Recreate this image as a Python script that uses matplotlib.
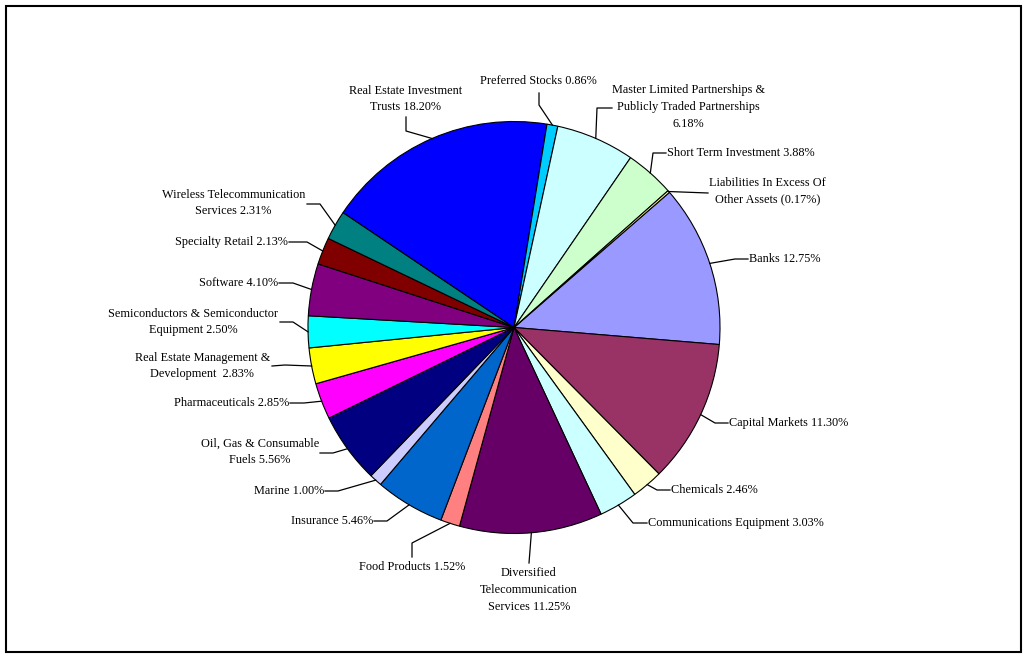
import numpy as np
import matplotlib
matplotlib.use("Agg")
import matplotlib.pyplot as plt
from matplotlib.patches import Rectangle

plt.rcParams["font.family"] = ["Liberation Serif", "DejaVu Serif"]

# sector weights (%), drawn clockwise starting with Banks
sectors = [
    "Banks", "Capital Markets", "Chemicals", "Communications Equipment",
    "Diversified\nTelecommunication\nServices", "Food Products", "Insurance", "Marine",
    "Oil, Gas & Consumable\nFuels", "Pharmaceuticals", "Real Estate Management &\nDevelopment ",
    "Semiconductors & Semiconductor\nEquipment", "Software", "Specialty Retail",
    "Wireless Telecommunication\nServices", "Real Estate Investment\nTrusts", "Preferred Stocks",
    "Master Limited Partnerships &\nPublicly Traded Partnerships\n", "Short Term Investment",
    "Liabilities In Excess Of\nOther Assets",
]
weights = [12.75, 11.30, 2.46, 3.03, 11.25, 1.52, 5.46, 1.00, 5.56, 2.85, 2.83,
           2.50, 4.10, 2.13, 2.31, 18.20, 0.86, 6.18, 3.88, -0.17]
colors = ["#9999FF", "#993366", "#FFFFCC", "#CCFFFF", "#660066", "#FF8080", "#0066CC",
          "#CCCCFF", "#000080", "#FF00FF", "#FFFF00", "#00FFFF", "#800080", "#800000",
          "#008080", "#0000FF", "#00CCFF", "#CCFFFF", "#CCFFCC", "#FFFF99"]

W, H = 1027, 658
cx, cy, r = 514, 327.5, 206
start = 41


def Y(y):
    return H - y


# label layout in pixel coords: text anchor, ha, leader points (from pie edge outwards)
layout = [
    ((749, 259), "left", [(735, 259), (748, 259)]),
    ((729, 423), "left", [(715, 423), (728, 423)]),
    ((671, 490), "left", [(657, 490), (670, 490)]),
    ((648, 523), "left", [(633, 523), (647, 523)]),
    ((529, 590), "center", [(529, 563)]),
    ((412, 567), "center", [(412, 543), (412, 557)]),
    ((373, 521), "right", [(387, 521), (374, 521)]),
    ((324, 491), "right", [(338, 491), (325, 491)]),
    ((319, 452), "right", [(333, 453), (320, 453)]),
    ((289, 403), "right", [(304, 403), (290, 403)]),
    ((270, 366), "right", [(285, 365), (272, 366)]),
    ((278, 322), "right", [(293, 322), (280, 322)]),
    ((278, 283), "right", [(293, 283), (279, 283)]),
    ((288, 242), "right", [(307, 242), (289, 242)]),
    ((305, 203), "right", [(320, 204), (307, 204)]),
    ((406, 99), "center", [(406, 131), (406, 117)]),
    ((538, 81), "center", [(539, 105), (539, 93)]),
    ((612, 107), "left", [(597, 108), (612, 108)]),
    ((667, 153), "left", [(653, 153), (666, 153)]),
    ((709, 191), "left", [(708, 193)]),
]

fig = plt.figure(figsize=(W / 100, H / 100), dpi=100)
ax = fig.add_axes([0, 0, 1, 1])

sizes = np.abs(weights)
ax.pie(sizes, colors=colors, startangle=start, counterclock=False,
       center=(cx, Y(cy)), radius=r,
       wedgeprops=dict(edgecolor="black", linewidth=0.8))
ax.set_xlim(0, W)
ax.set_ylim(0, H)
ax.set_aspect("equal")
ax.axis("off")

cum = np.cumsum(sizes) - sizes / 2
mid = np.deg2rad(start - 360 * cum / sizes.sum())

for i, (name, w) in enumerate(zip(sectors, weights)):
    pct = f"({abs(w):.2f}%)" if w < 0 else f"{w:.2f}%"
    if name.endswith("\n"):
        txt = name + pct
    else:
        txt = name + " " + pct
    (tx, ty), ha, pts = layout[i]
    px = cx + r * np.cos(mid[i])
    py = Y(cy) + r * np.sin(mid[i])
    xs = [px] + [p[0] for p in pts]
    ys = [py] + [Y(p[1]) for p in pts]
    ax.plot(xs, ys, color="black", linewidth=0.9)
    ax.text(tx, Y(ty), txt, ha=ha, va="center", multialignment="center",
            fontsize=8.8, linespacing=1.55)

ax.add_patch(Rectangle((5.5, Y(651.5)), 1015, 646, fill=False,
                       edgecolor="black", linewidth=1.5))

fig.savefig("out.png", dpi=100)
